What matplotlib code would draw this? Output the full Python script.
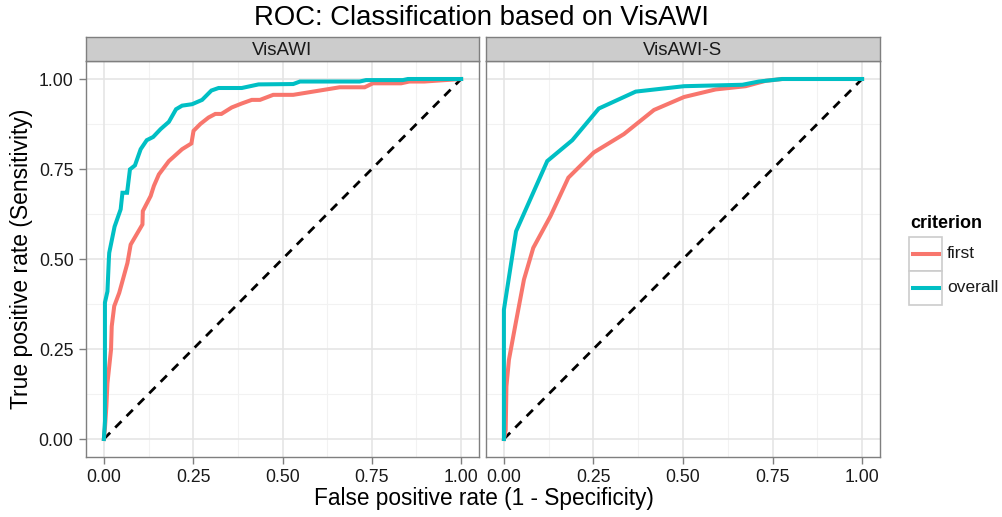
import matplotlib
matplotlib.use("Agg")
import matplotlib.pyplot as plt
from matplotlib.lines import Line2D
from matplotlib.patches import Rectangle

plt.rcParams['font.family'] = ['Liberation Sans', 'DejaVu Sans']

panels = ["VisAWI", "VisAWI-S"]
criteria = ["first", "overall"]
colors = {"first": "#F8766D", "overall": "#00BFC4"}
ticks = [0.0, 0.25, 0.5, 0.75, 1.0]
tick_labels = ["0.00", "0.25", "0.50", "0.75", "1.00"]

# VisAWI panel
visawi_first_fpr = [0, 0.003, 0.007, 0.010, 0.020, 0.022, 0.029, 0.043, 0.066, 0.075, 0.108, 0.109,
                    0.131, 0.140, 0.154, 0.182, 0.219, 0.245, 0.251, 0.270, 0.293, 0.312, 0.329,
                    0.358, 0.386, 0.414, 0.437, 0.474, 0.530, 0.660, 0.730, 0.753, 0.832, 0.855,
                    0.897, 1.0]
visawi_first_tpr = [0, 0.03, 0.09, 0.155, 0.248, 0.313, 0.369, 0.406, 0.489, 0.540, 0.596, 0.633,
                    0.675, 0.703, 0.735, 0.772, 0.805, 0.821, 0.856, 0.875, 0.893, 0.903, 0.903,
                    0.921, 0.932, 0.942, 0.942, 0.956, 0.956, 0.977, 0.977, 0.988, 0.988, 0.993,
                    0.993, 1.0]
visawi_overall_fpr = [0, 0.003, 0.003, 0.010, 0.014, 0.015, 0.030, 0.047, 0.052, 0.061, 0.065, 0.073,
                      0.087, 0.103, 0.120, 0.138, 0.159, 0.182, 0.202, 0.219, 0.247, 0.275, 0.301,
                      0.321, 0.386, 0.433, 0.530, 0.549, 0.716, 0.734, 0.837, 0.851, 1.0]
visawi_overall_tpr = [0, 0.05, 0.379, 0.41, 0.50, 0.517, 0.59, 0.638, 0.684, 0.684, 0.684, 0.749,
                      0.760, 0.805, 0.830, 0.839, 0.861, 0.881, 0.916, 0.926, 0.930, 0.942, 0.968,
                      0.975, 0.975, 0.985, 0.986, 0.993, 0.993, 0.997, 0.997, 1.0, 1.0]

# VisAWI-S panel
visawis_first_fpr = [0, 0.005, 0.007, 0.014, 0.033, 0.056, 0.082, 0.130, 0.180, 0.251, 0.335, 0.419,
                     0.503, 0.591, 0.675, 0.731, 0.777, 1.0]
visawis_first_tpr = [0, 0.025, 0.146, 0.22, 0.322, 0.443, 0.531, 0.619, 0.726, 0.796, 0.847, 0.914,
                     0.950, 0.971, 0.980, 0.995, 1.0, 1.0]
visawis_overall_fpr = [0, 0.0, 0.034, 0.121, 0.191, 0.265, 0.368, 0.503, 0.666, 0.712, 0.777, 1.0]
visawis_overall_tpr = [0, 0.359, 0.577, 0.772, 0.830, 0.918, 0.965, 0.980, 0.984, 0.993, 1.0, 1.0]

data = {
    "VisAWI": {"first": (visawi_first_fpr, visawi_first_tpr),
               "overall": (visawi_overall_fpr, visawi_overall_tpr)},
    "VisAWI-S": {"first": (visawis_first_fpr, visawis_first_tpr),
                 "overall": (visawis_overall_fpr, visawis_overall_tpr)},
}

W, H = 1002, 517
fig = plt.figure(figsize=(W / 100, H / 100), dpi=100)

def fx(px):
    return px / W

def fy(py):
    return 1 - py / H

panel_px = [(86, 479), (486, 880)]
top_px, bot_px = 61, 457
strip_top = 37

for i, (name, (l, r)) in enumerate(zip(panels, panel_px)):
    ax = fig.add_axes([fx(l), fy(bot_px), (r - l) / W, (bot_px - top_px) / H])
    ax.set_xlim(-0.05, 1.05)
    ax.set_ylim(-0.05, 1.05)
    for m in [0.125, 0.375, 0.625, 0.875]:
        ax.axvline(m, color="#F2F2F2", lw=0.8, zorder=0)
        ax.axhline(m, color="#F2F2F2", lw=0.8, zorder=0)
    for t in ticks:
        ax.axvline(t, color="#E5E5E5", lw=1.2, zorder=0)
        ax.axhline(t, color="#E5E5E5", lw=1.2, zorder=0)
    ax.plot([0, 1], [0, 1], color="black", lw=2.0, dashes=(3.2, 2.6), zorder=2)
    for c in criteria:
        xs, ys = data[name][c]
        ax.plot(xs, ys, color=colors[c], lw=2.9, zorder=3, solid_joinstyle="miter")
    ax.set_xticks(ticks)
    ax.set_xticklabels(tick_labels)
    ax.set_yticks(ticks)
    if i == 0:
        ax.set_yticklabels(tick_labels)
    else:
        ax.set_yticklabels([])
        ax.tick_params(axis="y", length=0)
    ax.tick_params(axis="both", labelsize=12.7, color="#7F7F7F", labelcolor="#1a1a1a", width=1)
    ax.tick_params(axis="x", length=5, pad=4)
    if i == 0:
        ax.tick_params(axis="y", length=5, pad=4)
    for s in ax.spines.values():
        s.set_color("#7F7F7F")
        s.set_linewidth(1.0)
    # strip
    sax = fig.add_axes([fx(l), fy(top_px), (r - l) / W, (top_px - strip_top) / H])
    sax.set_facecolor("#CCCCCC")
    sax.set_xticks([])
    sax.set_yticks([])
    for s in sax.spines.values():
        s.set_color("#7F7F7F")
        s.set_linewidth(1.0)
    sax.text(0.5, 0.45, name, ha="center", va="center", fontsize=13.5, color="#1a1a1a",
             transform=sax.transAxes)

fig.text(fx(482), fy(18), "ROC: Classification based on VisAWI", ha="center", va="center",
         fontsize=19.8)
fig.text(fx(484), fy(499), "False positive rate (1 - Specificity)", ha="center", va="center",
         fontsize=16.3)
fig.text(fx(22), fy(259), "True positive rate (Sensitivity)", ha="center", va="center",
         fontsize=16.5, rotation=90)

# legend
lax = fig.add_axes([0, 0, 1, 1], facecolor="none")
lax.set_xlim(0, W)
lax.set_ylim(H, 0)
lax.axis("off")
lax.text(910, 224, "criterion", fontsize=13, fontweight="bold", ha="left", va="center")
for k, c in enumerate(criteria):
    y0 = 237 + k * 34
    lax.add_patch(Rectangle((909, y0), 33, 34, facecolor="white", edgecolor="#CCCCCC", lw=1.2))
    lax.add_line(Line2D([913, 939], [y0 + 17, y0 + 17], color=colors[c], lw=2.9))
    lax.text(947, y0 + 17, c, fontsize=12.5, ha="left", va="center", color="#1a1a1a")

fig.savefig("out.png", dpi=100)
